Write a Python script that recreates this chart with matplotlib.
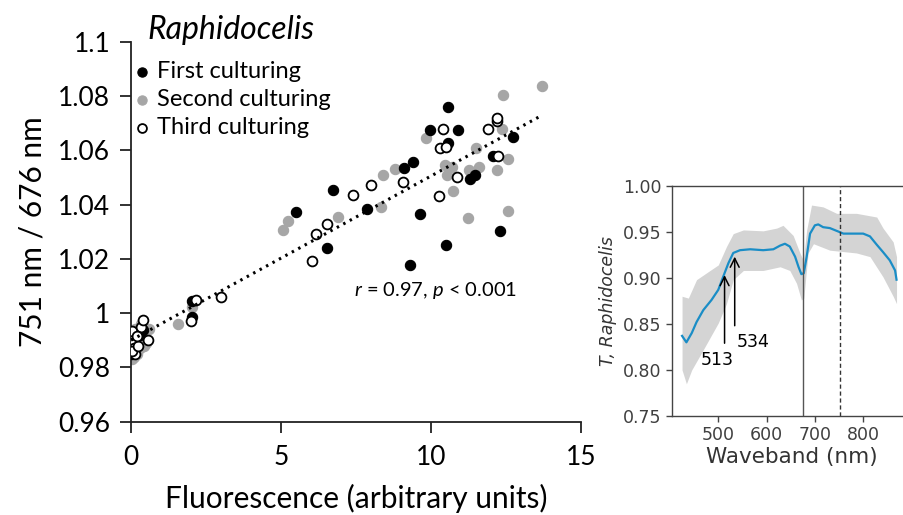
import numpy as np
import matplotlib
matplotlib.use("Agg")
import matplotlib.pyplot as plt

plt.rcParams["font.family"] = ["Lato", "DejaVu Sans"]
plt.rcParams["mathtext.fontset"] = "custom"
plt.rcParams["mathtext.rm"] = "Lato"
plt.rcParams["mathtext.it"] = "Lato:italic"

# --- left panel: 751/676 ratio vs fluorescence ---
first_x = [10.58, 9.97, 10.91, 10.58, 9.41, 9.1, 12.72, 12.06, 11.3, 11.47, 6.72, 7.88,
           5.5, 9.63, 12.3, 10.5, 6.54, 9.3, 2.02, 2.02, 0.41, 0.05, 0.1, 0.15, 0.3, 0.08]
first_y = [1.0759, 1.0674, 1.0674, 1.0628, 1.0558, 1.0533, 1.065, 1.0577, 1.0495, 1.051,
           1.0452, 1.0385, 1.0373, 1.0364, 1.0301, 1.025, 1.024, 1.0176, 0.9985, 1.0046,
           0.9937, 0.985, 0.987, 0.989, 0.992, 0.986]

second_x = [13.69, 12.41, 9.83, 12.36, 11.5, 10.47, 10.69, 10.52, 11.28, 11.61, 12.21,
            12.58, 10.72, 11.24, 12.56, 8.8, 8.39, 8.32, 6.91, 5.22, 5.08, 1.58, 2.02,
            0.02, 0.1, 0.2, 0.3, 0.45, 0.55, 0.6, 0.05, 0.15, 0.35, 0.5]
second_y = [1.0836, 1.0804, 1.0646, 1.0679, 1.0607, 1.0547, 1.0537, 1.0509, 1.0527, 1.054,
            1.0527, 1.0567, 1.0449, 1.0352, 1.0378, 1.0531, 1.0507, 1.0392, 1.0355, 1.034,
            1.0307, 0.9961, 1.0022, 0.983, 0.984, 0.985, 0.987, 0.988, 0.99, 0.994, 0.992,
            0.994, 0.996, 0.989]

third_x = [10.39, 12.19, 12.2, 11.91, 10.3, 10.5, 12.24, 10.86, 9.06, 7.99, 7.41, 10.28,
           6.54, 6.17, 6.02, 2.17, 3.0, 2.0, 0.02, 0.02, 0.05, 0.1, 0.15, 0.05, 0.33,
           0.39, 0.56, 0.25, 0.2]
third_y = [1.0679, 1.0707, 1.0718, 1.0677, 1.0608, 1.0612, 1.0577, 1.0503, 1.0483, 1.0473,
           1.0436, 1.0432, 1.0329, 1.0292, 1.0192, 1.005, 1.0058, 0.997, 0.9913, 0.9935,
           0.989, 0.987, 0.985, 0.986, 0.995, 0.9973, 0.99, 0.988, 0.9915]

fit_slope = 0.00605
fit_intercept = 0.9900
fit_range = [0.0, 13.6]

# --- right panel: spectrum ---
wl = [425, 434, 445, 455, 469, 486, 500, 510, 521, 531, 545, 566, 593, 614, 628, 638,
      648, 659, 666, 672, 677, 683, 690, 700, 707, 717, 731, 745, 759, 772, 786, 800,
      814, 828, 841, 855, 866, 869]
t_mean = [0.837, 0.830, 0.840, 0.852, 0.865, 0.876, 0.887, 0.901, 0.916, 0.927, 0.930,
          0.931, 0.930, 0.931, 0.935, 0.937, 0.934, 0.923, 0.912, 0.904, 0.905, 0.923,
          0.948, 0.957, 0.958, 0.955, 0.954, 0.951, 0.948, 0.948, 0.948, 0.948, 0.945,
          0.936, 0.928, 0.919, 0.908, 0.898]
band_up_x = [425, 438, 455, 483, 500, 517, 531, 552, 593, 621, 634, 655, 669, 676, 683,
             693, 717, 745, 786, 828, 841, 862, 869]
band_up = [0.880, 0.878, 0.898, 0.908, 0.914, 0.934, 0.948, 0.952, 0.951, 0.954, 0.957,
           0.946, 0.927, 0.919, 0.952, 0.979, 0.977, 0.970, 0.970, 0.966, 0.954, 0.939,
           0.923]
band_lo_x = [425, 434, 445, 469, 500, 517, 531, 552, 593, 628, 648, 662, 672, 677, 686,
             697, 731, 786, 814, 841, 862, 869]
band_lo = [0.800, 0.785, 0.800, 0.822, 0.851, 0.872, 0.898, 0.908, 0.908, 0.912, 0.908,
           0.894, 0.876, 0.878, 0.927, 0.937, 0.930, 0.927, 0.923, 0.901, 0.880, 0.872]
arrow_wl = [513, 534]
arrow_tail = [0.826, 0.845]
arrow_head = [0.906, 0.926]
arrow_text_xy = [(498, 0.811), (572, 0.830)]
chl_line = 676
ref_line = 751

fig = plt.figure(figsize=(9.04, 5.15), dpi=100)

ax = fig.add_axes([0.1449, 0.1812, 0.4978, 0.7379])
ax.scatter(first_x, first_y, s=55, c="black", edgecolors="black", linewidths=0.8,
           zorder=3, label="First culturing")
ax.scatter(second_x, second_y, s=55, c="#a6a6a6", edgecolors="#a6a6a6", linewidths=0.8,
           zorder=2, label="Second culturing")
ax.scatter(third_x, third_y, s=50, c="white", edgecolors="black", linewidths=1.3,
           zorder=4, label="Third culturing")
fx = np.array(fit_range)
ax.plot(fx, fit_intercept + fit_slope * fx, color="black", lw=2.2,
        linestyle=(0, (0.8, 1.6)), zorder=5)

ax.set_xlim(0, 15)
ax.set_ylim(0.96, 1.1)
ax.set_xticks([0, 5, 10, 15])
yt = [0.96, 0.98, 1.0, 1.02, 1.04, 1.06, 1.08, 1.1]
ax.set_yticks(yt)
ax.set_yticklabels([f"{v:g}" for v in yt])
for s in ["top", "right"]:
    ax.spines[s].set_visible(False)
for s in ["left", "bottom"]:
    ax.spines[s].set_color("#222222")
    ax.spines[s].set_linewidth(1.3)
ax.tick_params(direction="out", length=8, width=1.3, color="#222222",
               labelsize=19, pad=7)
ax.tick_params(axis="x", pad=9)
ax.set_xlabel("Fluorescence (arbitrary units)", fontsize=21.5, labelpad=10)
ax.set_ylabel("751 nm / 676 nm", fontsize=21.5, labelpad=8)
ax.text(0.495, 0.345, "$r$ = 0.97, $p$ < 0.001", transform=ax.transAxes,
        fontsize=14.5, va="center")

fig.text(147 / 904, 1 - 30 / 515, "Raphidocelis", fontsize=23, style="italic",
         va="center", ha="left")
leg = ax.legend(loc="upper left", bbox_to_anchor=(133.8 / 904, 1 - 61 / 515),
                bbox_transform=fig.transFigure, frameon=False, fontsize=17,
                handletextpad=0.3, borderpad=0.0, labelspacing=0.3,
                markerscale=0.9, handlelength=0.7, borderaxespad=0)

# right panel
ax2 = fig.add_axes([0.7430, 0.1922, 0.2653, 0.4472])
xs = np.union1d(band_up_x, band_lo_x)
ax2.fill_between(xs, np.interp(xs, band_lo_x, band_lo), np.interp(xs, band_up_x, band_up),
                 color="#d4d4d4", lw=0)
ax2.plot(wl, t_mean, color="#1a8dc6", lw=1.6)
ax2.axvline(chl_line, color="#555555", lw=1.0)
ax2.axvline(ref_line, color="#333333", lw=1.0, linestyle=(0, (3, 2)))
for w, t0, t1, (tx, ty) in zip(arrow_wl, arrow_tail, arrow_head, arrow_text_xy):
    ax2.annotate("", xy=(w, t1), xytext=(w, t0),
                 arrowprops=dict(arrowstyle="->", color="black", lw=1.1,
                                 mutation_scale=16))
    ax2.text(tx, ty, str(w), fontsize=12.5, ha="center", va="center",
             family="DejaVu Sans")
ax2.set_xlim(403.5, 900)
ax2.set_ylim(0.75, 1.0)
ax2.set_xticks([500, 600, 700, 800])
yt2 = [0.75, 0.80, 0.85, 0.90, 0.95, 1.00]
ax2.set_yticks(yt2)
ax2.set_yticklabels([f"{v:.2f}" for v in yt2])
for s in ax2.spines.values():
    s.set_color("#444444")
    s.set_linewidth(1.0)
ax2.tick_params(direction="out", length=4, width=1.0, color="#444444",
                labelsize=12.5, labelcolor="#404040")
for lab in ax2.get_xticklabels() + ax2.get_yticklabels():
    lab.set_family("DejaVu Sans")
ax2.set_xlabel("Waveband (nm)", fontsize=15.5, color="#333333", family="DejaVu Sans",
               labelpad=2)
ax2.set_ylabel("T, Raphidocelis", fontsize=12.5, color="#333333", family="DejaVu Sans",
               style="italic", labelpad=4)

fig.savefig("out.png", dpi=100)
